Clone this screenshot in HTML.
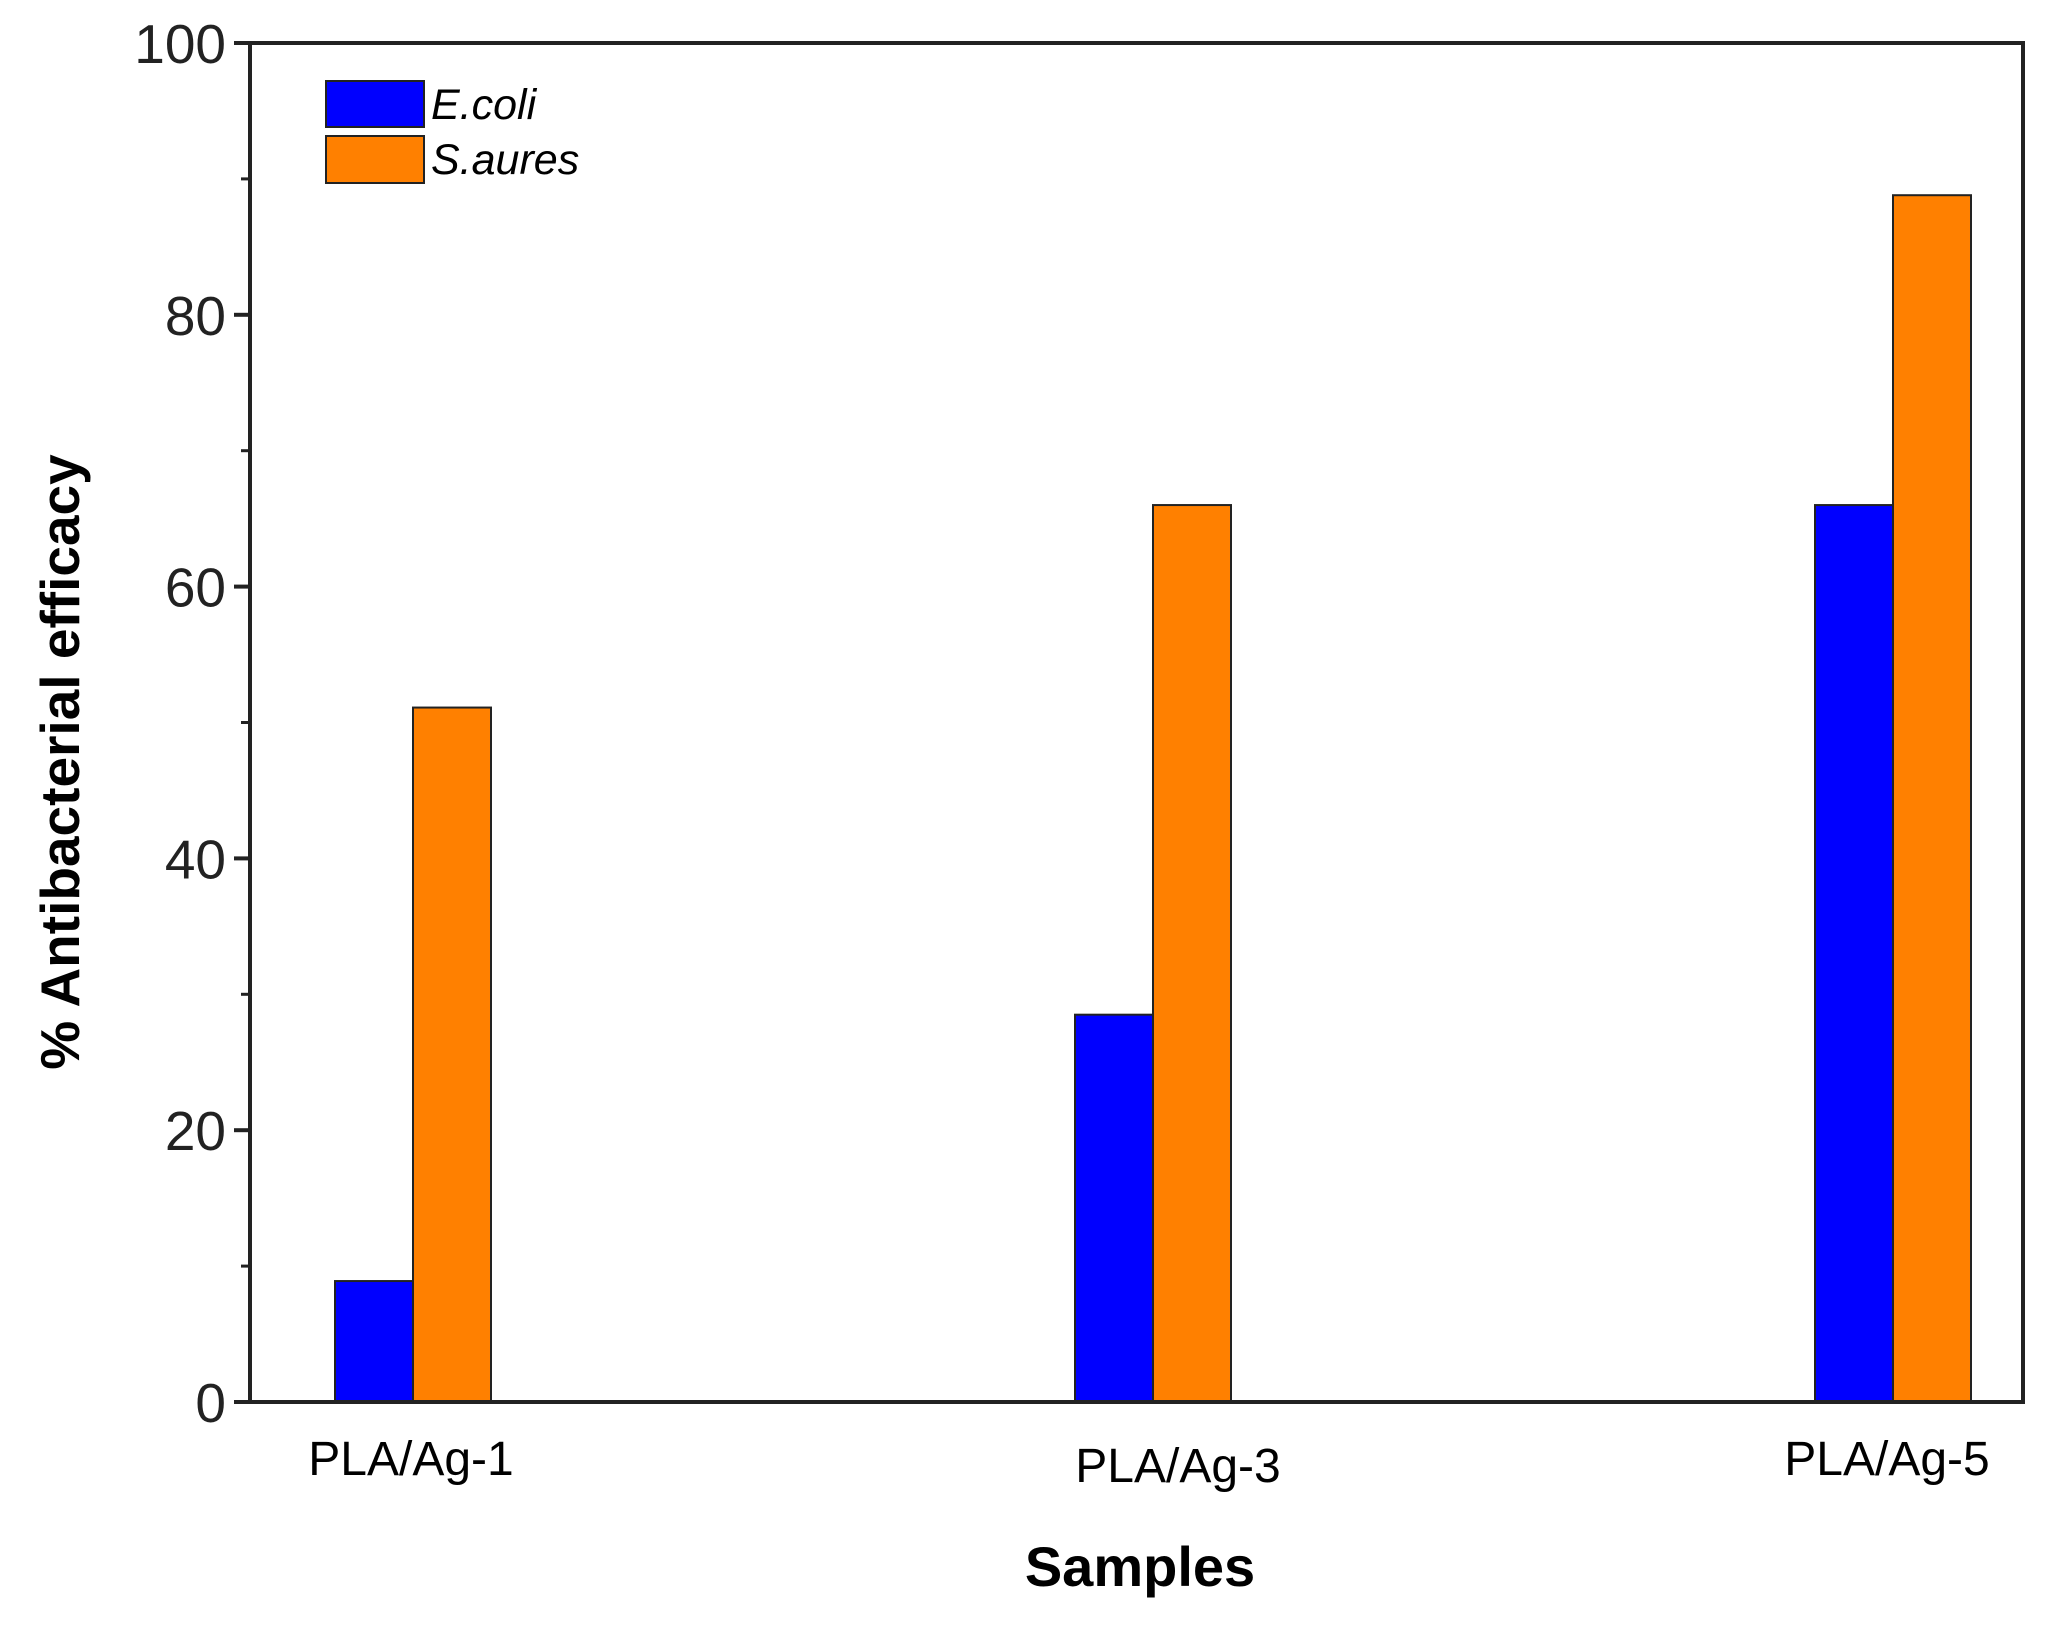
<!DOCTYPE html>
<html><head><meta charset="utf-8"><style>
html,body{margin:0;padding:0;background:#fff;}
svg{display:block;font-family:"Liberation Sans",Arial,sans-serif;}
</style></head><body>
<svg id="chart" width="2060" height="1628" viewBox="0 0 2060 1628">
<g id="plot"></g>
<text x="1140" y="1586" font-size="56" font-weight="bold" text-anchor="middle">Samples</text>
<text transform="translate(79,762) rotate(-90)" font-size="55" font-weight="bold" text-anchor="middle">% Antibacterial efficacy</text>
<g>
<rect x="326" y="81" width="98" height="46" fill="#0000ff" stroke="#222" stroke-width="2"/>
<text x="431" y="119" font-size="43" font-style="italic">E.coli</text>
<rect x="326" y="136" width="98" height="47" fill="#ff8000" stroke="#222" stroke-width="2"/>
<text x="431" y="174" font-size="43" font-style="italic">S.aures</text>
</g>
</svg>
<script>
const categories = ["PLA/Ag-1","PLA/Ag-3","PLA/Ag-5"];
const ecoli = [8.9, 28.5, 66];
const saures = [51.1, 66, 88.8];
const yTicks = [0,20,40,60,80,100];
const yMinor = [10,30,50,70,90];

const L=250,R=2023,T=43,B=1402;
const NS="http://www.w3.org/2000/svg";
const g=document.getElementById('plot');
function y(v){return B-(v/100)*(B-T);}
function xc(i){return 413+i*740;}
const bw=78;
function mk(tag,attrs,parent){const e=document.createElementNS(NS,tag);for(const k in attrs)e.setAttribute(k,attrs[k]);(parent||g).appendChild(e);return e;}

categories.forEach((c,i)=>{
  const b1=mk('rect',{x:xc(i)-bw,y:y(ecoli[i]),width:bw,height:B-y(ecoli[i]),fill:'#0000ff',stroke:'#222','stroke-width':2});
  
  
  const b2=mk('rect',{x:xc(i),y:y(saures[i]),width:bw,height:B-y(saures[i]),fill:'#ff8000',stroke:'#222','stroke-width':2});
  
  
  const dy=[1475,1482,1475][i];
  const t=mk('text',{x:xc(i)+[-2,25,-6][i],y:dy,'font-size':48,'text-anchor':'middle'});
  t.textContent=c;
  
  
});
const frame=mk('rect',{x:L,y:T,width:R-L,height:B-T,fill:'none',stroke:'#222','stroke-width':4});


yTicks.forEach(v=>{
  const l=mk('line',{x1:L-16,x2:L,y1:y(v),y2:y(v),stroke:'#222','stroke-width':4});
  
  
  const t=mk('text',{x:226,y:y(v)+20,'font-size':55,'text-anchor':'end',fill:'#222'});
  t.textContent=v;
  
  
});
yMinor.forEach(v=>{
  const l=mk('line',{x1:L-9,x2:L,y1:y(v),y2:y(v),stroke:'#222','stroke-width':3});
  
  
});
</script>
</body></html>
